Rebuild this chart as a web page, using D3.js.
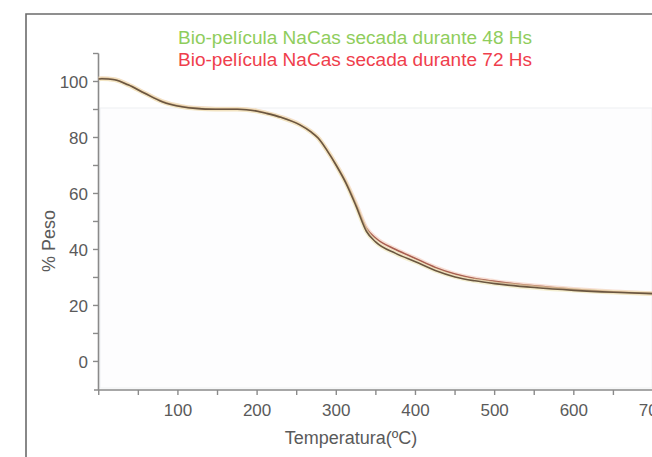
<!DOCTYPE html>
<html>
<head>
<meta charset="utf-8">
<script src="https://cdn.jsdelivr.net/npm/d3@7"></script>
<style>
  html, body { margin: 0; padding: 0; background: #fff; overflow: hidden; }
  svg { display: block; font-family: "Liberation Sans", Arial, sans-serif; }
</style>
</head>
<body>
<svg id="chart" width="652" height="457"></svg>
<script>
// Thermogravimetric curves: temperature (ºC) vs remaining weight (%)
const temps48 = [0, 4, 20, 37, 58, 80, 105, 122, 147, 175, 200, 212, 230, 254, 268, 277, 288, 300, 312, 325, 338, 350, 375, 400, 425, 450, 475, 500, 550, 600, 650, 700];
const peso48  = [100.9, 101.0, 100.6, 98.8, 95.8, 92.8, 91.0, 90.4, 90.1, 90.1, 89.4, 88.6, 87.2, 84.5, 82.0, 79.8, 75.5, 70.0, 63.8, 55.5, 46.5, 42.6, 38.6, 35.6, 32.5, 30.2, 28.8, 27.8, 26.4, 25.4, 24.7, 24.2];

const temps72 = [0, 4, 20, 37, 58, 80, 105, 122, 147, 175, 200, 212, 230, 254, 268, 277, 288, 300, 312, 325, 338, 350, 375, 400, 425, 450, 475, 500, 550, 600, 650, 700];
const peso72  = [101.0, 101.1, 100.7, 98.9, 95.9, 92.9, 91.1, 90.5, 90.2, 90.2, 89.5, 88.7, 87.3, 84.6, 82.1, 79.9, 75.6, 70.2, 64.2, 56.2, 47.6, 44.0, 40.0, 36.8, 33.6, 31.2, 29.6, 28.6, 27.0, 25.8, 24.9, 24.3];

const legendLabels = ["Bio-película NaCas secada durante 48 Hs", "Bio-película NaCas secada durante 72 Hs"];
const xTickLabels = [100, 200, 300, 400, 500, 600, 700];
const yTickLabels = [0, 20, 40, 60, 80, 100];

const svg = d3.select("#chart");

const x = d3.scaleLinear().domain([0, 700]).range([98.75, 653]);
const y = d3.scaleLinear().domain([-10.2, 110]).range([390, 53.5]);

// outer frame (only its left and top edges fall inside the view)
svg.append("path")
  .attr("d", "M26,457 V14 H652")
  .attr("fill", "none")
  .attr("stroke", "#6b6b6b")
  .attr("stroke-width", 1.6);

// faint plot background panel
svg.append("rect")
  .attr("x", 100).attr("y", 108).attr("width", 552).attr("height", 280)
  .attr("fill", "#fdfdfe")
  .attr("stroke", "#eef0f2")
  .attr("stroke-width", 1);

// y axis
const yAxis = svg.append("g");
yAxis.append("line")
  .attr("x1", 98.5).attr("x2", 98.5)
  .attr("y1", y(110)).attr("y2", y(-10.2))
  .attr("stroke", "#8a8a8a").attr("stroke-width", 1.6);
yAxis.selectAll("line.tick")
  .data(d3.range(0, 111, 10))
  .join("line")
  .attr("class", "tick")
  .attr("x1", 93).attr("x2", 98.5)
  .attr("y1", d => y(d)).attr("y2", d => y(d))
  .attr("stroke", "#8a8a8a").attr("stroke-width", 1.4);
yAxis.selectAll("text")
  .data(yTickLabels)
  .join("text")
  .attr("x", 88)
  .attr("y", d => y(d))
  .attr("dy", "0.36em")
  .attr("text-anchor", "end")
  .attr("font-size", 17)
  .attr("fill", "#5a5a5a")
  .text(d => d);

// x axis
const xAxis = svg.append("g");
xAxis.append("line")
  .attr("x1", 94).attr("x2", 652)
  .attr("y1", 390).attr("y2", 390)
  .attr("stroke", "#8a8a8a").attr("stroke-width", 1.6);
xAxis.selectAll("line.tick")
  .data(d3.range(0, 701, 50))
  .join("line")
  .attr("class", "tick")
  .attr("x1", d => x(d)).attr("x2", d => x(d))
  .attr("y1", 390).attr("y2", 395)
  .attr("stroke", "#8a8a8a").attr("stroke-width", 1.4);
xAxis.selectAll("text")
  .data(xTickLabels)
  .join("text")
  .attr("x", d => x(d))
  .attr("y", 416)
  .attr("text-anchor", "middle")
  .attr("font-size", 17)
  .attr("fill", "#5a5a5a")
  .text(d => d);

// axis titles
svg.append("text")
  .attr("x", 351).attr("y", 444)
  .attr("text-anchor", "middle")
  .attr("font-size", 18)
  .attr("fill", "#5a5a5a")
  .text("Temperatura(ºC)");
svg.append("text")
  .attr("transform", "translate(55,241) rotate(-90)")
  .attr("text-anchor", "middle")
  .attr("font-size", 18)
  .attr("fill", "#5a5a5a")
  .text("% Peso");

// legend
const legendColors = ["#8fcd5c", "#ef3e4c"];
svg.selectAll("text.legend")
  .data(legendLabels)
  .join("text")
  .attr("class", "legend")
  .attr("x", 178)
  .attr("y", (d, i) => 44 + i * 22)
  .attr("font-size", 17.5)
  .attr("textLength", 354)
  .attr("lengthAdjust", "spacingAndGlyphs")
  .attr("fill", (d, i) => legendColors[i])
  .text(d => d);

// curves
const line = d3.line().x(d => x(d[0])).y(d => y(d[1])).curve(d3.curveMonotoneX);
const data48 = d3.zip(temps48, peso48);
const data72 = d3.zip(temps72, peso72);

function drawCurve(data, halo, stroke) {
  svg.append("path").datum(data)
    .attr("d", line).attr("fill", "none")
    .attr("stroke", halo).attr("stroke-width", 4.5)
    .attr("stroke-opacity", 0.6)
    .attr("stroke-linejoin", "round");
  svg.append("path").datum(data)
    .attr("d", line).attr("fill", "none")
    .attr("stroke", stroke).attr("stroke-width", 1.6)
    .attr("stroke-linejoin", "round");
}
drawCurve(data72, "#f3c9b8", "#a85e50");
drawCurve(data48, "#eee6b4", "#6a5640");
</script>
</body>
</html>
